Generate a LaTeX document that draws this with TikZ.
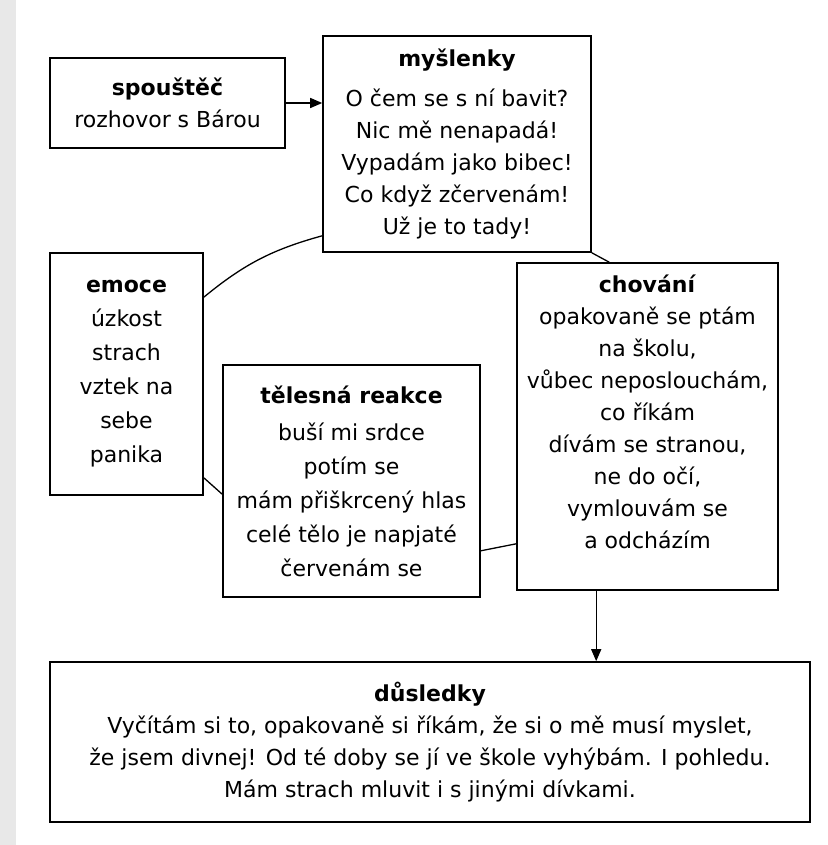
\documentclass[tikz,border=0pt]{standalone}
\usepackage{fontspec}
\setmainfont{DejaVu Sans}
\usetikzlibrary{arrows.meta}

\begin{document}
\begin{tikzpicture}[x=1pt,y=-1pt]

    % --- DEFINE STYLES ---
    % Style for the text boxes
    \tikzstyle{cbox} = [draw, line width=1.6pt, align=center, inner sep=0pt, font=\fontsize{22}{32}\selectfont]
    % Style for boxes with looser lines
    \tikzstyle{wbox} = [cbox, font=\fontsize{22}{34}\selectfont]
    % Style for plain links
    \tikzstyle{link} = [line width=1.3pt]
    % Style for the arrows
    \tikzstyle{arr} = [link, -{Triangle[length=12pt,width=10pt]}]

    % Page and scanned margin
    \useasboundingbox (0,0) rectangle (827,845);
    \fill[gray!18] (0,0) rectangle (16,845);

    % --- BOXES ---
    \node[cbox, minimum width=235pt, minimum height=90pt] (spoustec) at (167.5,103)
        {\textbf{spouštěč}\\rozhovor s Bárou};
    \node[cbox, minimum width=268pt, minimum height=216pt] (mysl) at (457,144)
        {\textbf{myšlenky}\\[8pt]O čem se s ní bavit?\\Nic mě nenapadá!\\Vypadám jako bibec!\\Co když zčervenám!\\Už je to tady!};
    \node[wbox, minimum width=153pt, minimum height=242pt] (emoce) at (126.5,374)
        {\textbf{emoce}\\úzkost\\strach\\vztek na\\sebe\\panika};
    \node[wbox, minimum width=257pt, minimum height=232pt] (telo) at (351.5,481)
        {\textbf{tělesná reakce}\\[3pt]buší mi srdce\\potím se\\mám přiškrcený hlas\\celé tělo je napjaté\\červenám se};
    \node[cbox, minimum width=261pt, minimum height=327pt] (chovani) at (647.5,426.5)
        {\textbf{chování}\\opakovaně se ptám\\na školu,\\vůbec neposlouchám,\\co říkám\\dívám se stranou,\\ne do očí,\\vymlouvám se\\a odcházím\\[-2pt]\mbox{}};
    \node[cbox, minimum width=760pt, minimum height=160pt] (dusledky) at (430,742)
        {\textbf{důsledky}\\Vyčítám si to, opakovaně si říkám, že si o mě musí myslet,\\že jsem divnej! Od té doby se jí ve škole vyhýbám. I pohledu.\\Mám strach mluvit i s jinými dívkami.};

    % --- LINKS ---
    \draw[arr] (spoustec.east) -- (spoustec.east -| mysl.west);
    \draw[link] ([yshift=-45pt]emoce.north east) to[bend left=12] ([yshift=17pt]mysl.south west);
    \draw[link] (mysl.south east) -- ([xshift=93pt]chovani.north west);
    \draw[link] ([yshift=18pt]emoce.south east) -- ([yshift=-130pt]telo.north west);
    \draw[link] ([yshift=47pt]telo.south east) -- ([yshift=47pt]chovani.south west);
    \draw[arr] ([xshift=80pt]chovani.south west) coordinate (c) -- (c |- dusledky.north);

\end{tikzpicture}
\end{document}
